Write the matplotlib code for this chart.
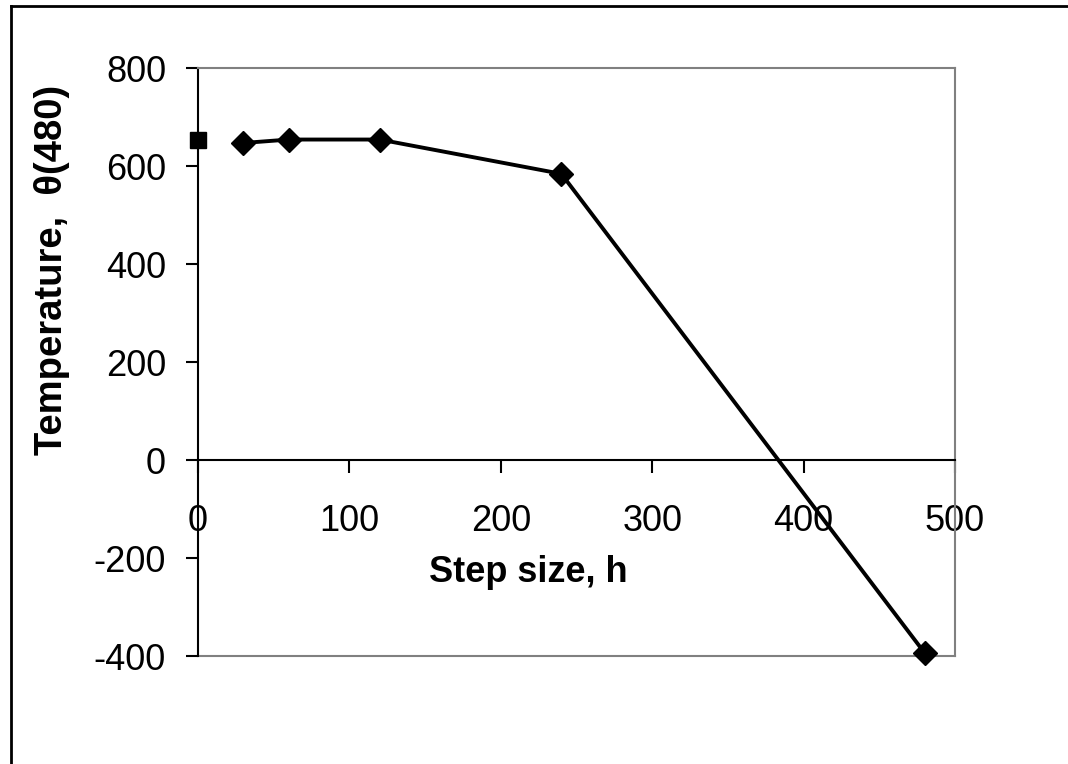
import matplotlib
matplotlib.use("Agg")
import matplotlib.pyplot as plt
from matplotlib.lines import Line2D

plt.rcParams['font.family'] = ['Liberation Sans', 'DejaVu Sans']

# Data
exact_h = [0]
exact_theta = [653]
step_sizes = [30, 60, 120, 240, 480]
theta_480 = [647, 654, 654, 584, -394]

x_ticks = [0, 100, 200, 300, 400, 500]
y_ticks = [-400, -200, 0, 200, 400, 600, 800]

W, H = 1068, 764
fig = plt.figure(figsize=(W / 100, H / 100), dpi=100)

left, right, top, bottom = 198, 955, 68, 656
ax = fig.add_axes([left / W, 1 - bottom / H, (right - left) / W, (bottom - top) / H])

ax.plot(step_sizes, theta_480, color='black', lw=2.8, marker='D', ms=12,
        mfc='black', mec='black', zorder=4, clip_on=False)
ax.plot(exact_h, exact_theta, ls='none', marker='s', ms=11.5,
        mfc='black', mec='black', zorder=5, clip_on=False)

ax.set_xlim(0, 500)
ax.set_ylim(-400, 800)
ax.set_xticks(x_ticks)
ax.set_yticks(y_ticks)
ax.set_xticklabels([str(v) for v in x_ticks])
ax.set_yticklabels([str(v) for v in y_ticks])

gray = '#808080'
ax.spines['top'].set_color(gray)
ax.spines['right'].set_color(gray)
ax.spines['top'].set_linewidth(1.5)
ax.spines['right'].set_linewidth(1.5)
ax.spines['left'].set_color('black')
ax.spines['left'].set_linewidth(1.5)
ax.spines['bottom'].set_position(('data', 0))
ax.spines['bottom'].set_color('black')
ax.spines['bottom'].set_linewidth(1.5)
ax.axhline(-400, color=gray, lw=1.5, clip_on=False, zorder=1)

ax.tick_params(axis='y', direction='out', length=9, width=1.5, labelsize=26, pad=14)
ax.tick_params(axis='x', direction='out', length=9, width=1.5, labelsize=26, pad=22.5)
for lab in ax.get_xticklabels():
    lab.set_zorder(1)

fig.text(528 / W, 1 - 572 / H, 'Step size, h', fontsize=26, fontweight='bold',
         ha='center', va='center')
fig.text(52 / W, 1 - 270 / H, 'Temperature,  \u03b8(480)', fontsize=27.5, fontweight='bold',
         ha='center', va='center', rotation=90)

# Outer chart border (left and top edges visible)
fig.add_artist(Line2D([11 / W, 11 / W], [0, 1 - 6 / H], transform=fig.transFigure,
                      color='black', lw=2))
fig.add_artist(Line2D([11 / W, 1], [1 - 6 / H, 1 - 6 / H], transform=fig.transFigure,
                      color='black', lw=2))

fig.savefig('out.png', dpi=100)
